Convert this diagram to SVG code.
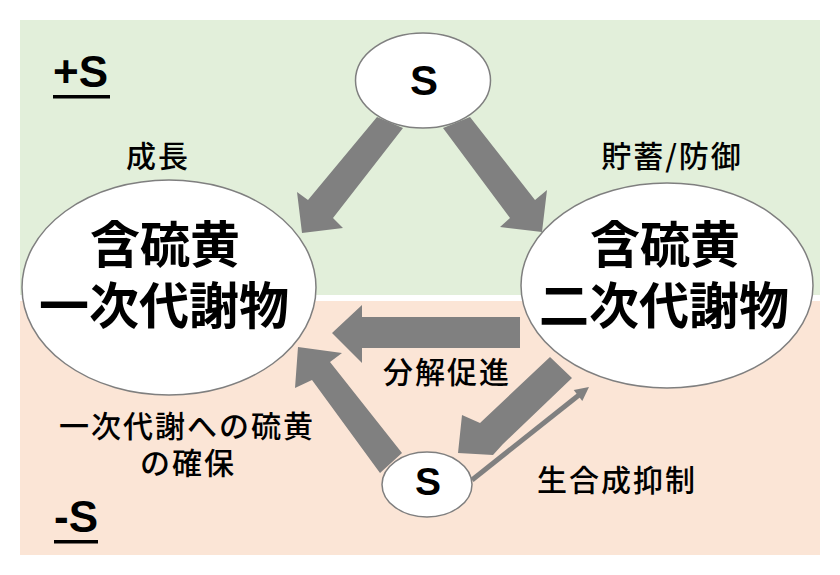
<svg xmlns="http://www.w3.org/2000/svg" width="840" height="575" viewBox="0 0 840 575">
<style>
.node{fill:#ffffff;stroke:#7f7f7f;stroke-width:1.5}
.arr{fill:#808080}
.big{font-family:"Noto Sans CJK JP","Noto Sans CJK SC",sans-serif;font-size:50px;font-weight:bold;fill:#000;text-anchor:middle}
.lbl{font-family:"Noto Sans CJK JP","Noto Sans CJK SC",sans-serif;font-size:30px;font-weight:500;fill:#000;text-anchor:middle;letter-spacing:2px}
.s{font-family:"Liberation Sans",Arial,sans-serif;font-weight:bold;fill:#000;text-anchor:middle}
.zone{font-family:"Liberation Sans",Arial,sans-serif;font-weight:bold;font-size:44px;fill:#000}
</style>
<defs>
<clipPath id="a4clip"><polygon points="550,357 572,378 503,444 493,455 458,453 462,415 480,423"/></clipPath>
</defs>
<rect x="0" y="0" width="840" height="575" fill="#ffffff"/>
<g id="zone-plus">
<rect x="20" y="20" width="800" height="275" fill="#e2efda"/>
<text class="zone" x="53" y="87">+S</text>
<rect x="53" y="95" width="57" height="3.5" fill="#000"/>
</g>
<g id="zone-minus">
<rect x="20" y="301" width="800" height="254" fill="#fbe5d6"/>
<text class="zone" x="54" y="532">-S</text>
<rect x="54" y="540" width="44" height="3.5" fill="#000"/>
</g>
<g id="s-top">
<ellipse class="node" cx="423" cy="80.5" rx="67.5" ry="47.5"/>
<text class="s" x="424" y="95" font-size="42">S</text>
</g>
<g id="primary">
<ellipse class="node" cx="169" cy="287.5" rx="147" ry="107.5"/>
<text class="big"><tspan x="165" y="263">含硫黄</tspan><tspan x="164" y="324">一次代謝物</tspan></text>
</g>
<g id="secondary">
<ellipse class="node" cx="667" cy="285.5" rx="146" ry="102.5"/>
<text class="big"><tspan x="665" y="263">含硫黄</tspan><tspan x="664" y="324">二次代謝物</tspan></text>
</g>
<g id="s-bottom">
<ellipse class="node" cx="427" cy="484.5" rx="45" ry="32.5"/>
<text class="s" x="428" y="495" font-size="39">S</text>
</g>
<g id="connectors">
<polygon class="arr" points="377,117 403,128 333,218 343,228 302,233 297,192 308,200"/>
<polygon class="arr" points="443,128 470,117 535,200 547,190 542,232 500,227 510,218"/>
<polygon class="arr" points="520,317 362,317 362,305 332,333 362,363 362,348 520,348"/>
<polygon class="arr" points="550,357 572,378 503,444 493,455 458,453 462,415 480,423"/>
<polygon class="arr" points="402,453 380,473 312,380 295,388 298,347 342,353 330,362"/>
<line x1="467" y1="484" x2="583" y2="393" stroke="#ffffff" stroke-width="5" clip-path="url(#a4clip)"/>
<line x1="472" y1="480" x2="579" y2="395" stroke="#808080" stroke-width="5"/>
<polygon class="arr" points="589,387 582.3,401.1 573.7,390.1"/>
</g>
<g id="labels">
<text class="lbl" x="158" y="167" letter-spacing="5">成長</text>
<text class="lbl" x="672" y="167">貯蓄/防御</text>
<text class="lbl" x="447" y="383">分解促進</text>
<text class="lbl"><tspan x="187" y="437">一次代謝への硫黄</tspan><tspan x="188" y="474">の確保</tspan></text>
<text class="lbl" x="617" y="491" font-size="31">生合成抑制</text>
</g>
</svg>
